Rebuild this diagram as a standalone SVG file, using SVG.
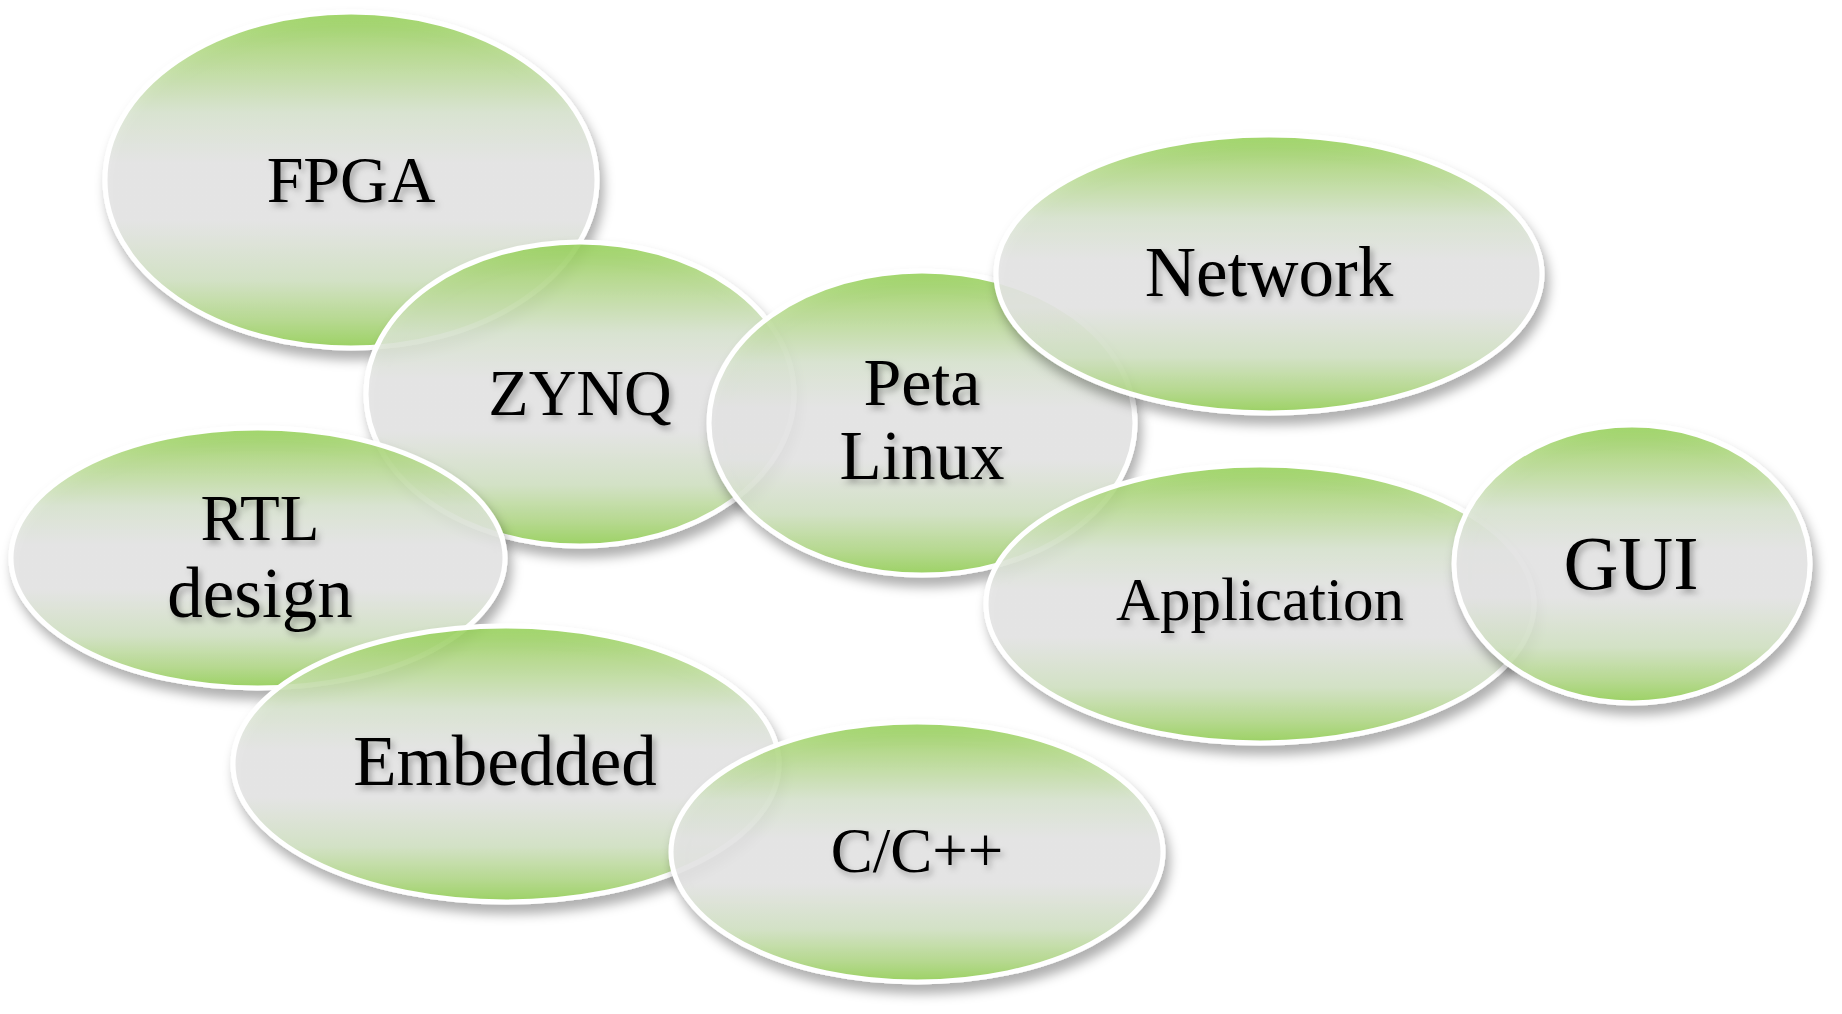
<svg xmlns="http://www.w3.org/2000/svg" width="1842" height="1014" viewBox="0 0 1842 1014">
<defs>
<linearGradient id="g" x1="0" y1="0" x2="0" y2="1">
<stop offset="0" stop-color="#95d157"/>
<stop offset="0.12" stop-color="#b4da88"/>
<stop offset="0.3" stop-color="#d9e5d0"/>
<stop offset="0.45" stop-color="#e6e6e6"/>
<stop offset="0.62" stop-color="#e6e6e6"/>
<stop offset="0.8" stop-color="#d2e3c3"/>
<stop offset="0.92" stop-color="#b2d987"/>
<stop offset="1" stop-color="#95d157"/>
</linearGradient>
<filter id="sh" x="-10%" y="-10%" width="125%" height="130%">
<feDropShadow dx="4" dy="9" stdDeviation="6" flood-color="#000" flood-opacity="0.35"/>
</filter>
<filter id="ts" x="-10%" y="-20%" width="130%" height="150%">
<feDropShadow dx="3" dy="4" stdDeviation="3" flood-color="#000" flood-opacity="0.3"/>
</filter>
</defs>
<style>
.e{fill:url(#g);fill-opacity:0.88;stroke:#ffffff;stroke-width:5;filter:url(#sh)}
text{font-family:"Liberation Serif","Times New Roman",serif;fill:#000;text-anchor:middle;filter:url(#ts)}
</style>
<rect width="1842" height="1014" fill="#ffffff"/>
<g id="connectors"/>
<g id="fpga"><ellipse class="e" cx="351" cy="180" rx="246" ry="168"/><text x="351" y="202" font-size="66">FPGA</text></g>
<g id="zynq"><ellipse class="e" cx="580" cy="394" rx="214" ry="152"/><text x="580" y="415" font-size="66">ZYNQ</text></g>
<g id="rtl"><ellipse class="e" cx="258" cy="558" rx="247" ry="130"/><text x="260" y="540" font-size="65">RTL</text><text x="260" y="617" font-size="71">design</text></g>
<g id="petalinux"><ellipse class="e" cx="922" cy="423" rx="213" ry="152"/><text x="922" y="405" font-size="68">Peta</text><text x="922" y="479" font-size="69">Linux</text></g>
<g id="network"><ellipse class="e" cx="1269" cy="274" rx="273" ry="139"/><text x="1269" y="296" font-size="71">Network</text></g>
<g id="application"><ellipse class="e" cx="1260" cy="604" rx="274" ry="139"/><text x="1260" y="620" font-size="61">Application</text></g>
<g id="gui"><ellipse class="e" cx="1632" cy="564" rx="178" ry="139"/><text x="1631" y="589" font-size="76">GUI</text></g>
<g id="embedded"><ellipse class="e" cx="506" cy="764" rx="273" ry="138"/><text x="505" y="785" font-size="71">Embedded</text></g>
<g id="cpp"><ellipse class="e" cx="917" cy="852" rx="246" ry="130"/><text x="917" y="872" font-size="63">C/C++</text></g>
</svg>
